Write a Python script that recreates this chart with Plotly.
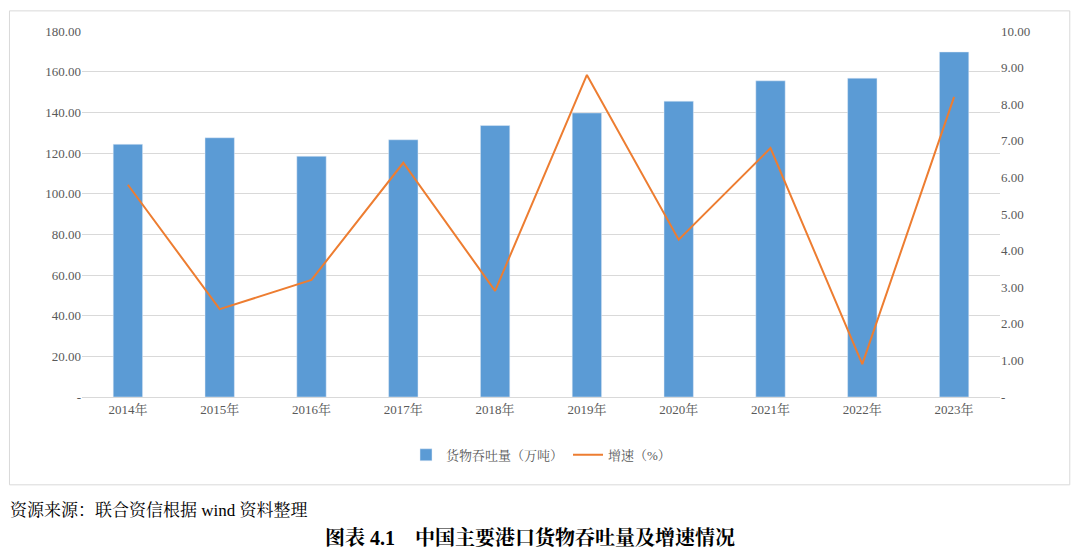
import plotly.graph_objects as go

years = ["2014年","2015年","2016年","2017年","2018年","2019年","2020年","2021年","2022年","2023年"]
throughput = [124.3, 127.5, 118.4, 126.5, 133.5, 139.7, 145.5, 155.5, 156.8, 169.7]
growth = [5.8, 2.4, 3.2, 6.4, 2.9, 8.8, 4.3, 6.8, 0.9, 8.2]
left_ticks = [0, 20, 40, 60, 80, 100, 120, 140, 160, 180]
left_labels = ["-"] + [f"{v:.2f}" for v in left_ticks[1:]]
right_ticks = list(range(0, 11))
right_labels = ["-"] + [f"{v:.2f}" for v in right_ticks[1:]]

font = "Liberation Serif, Noto Serif CJK SC, Noto Sans CJK SC"
fig = go.Figure()
fig.add_trace(go.Bar(x=years, y=throughput, name="货物吞吐量（万吨）", marker_color="#5b9bd5", width=0.32))
fig.add_trace(go.Scatter(x=years, y=growth, name="增速（%）", yaxis="y2", mode="lines",
                         line=dict(color="#ed7d31", width=2)))
fig.update_layout(
    width=1080, height=559, paper_bgcolor="white", plot_bgcolor="white",
    margin=dict(l=74, r=88, t=23, b=170),
    font=dict(family=font, size=13, color="#595959"),
    xaxis=dict(showline=True, linecolor="#d9d9d9", ticks=""),
    yaxis=dict(range=[0, 180], tickvals=left_ticks, ticktext=left_labels, gridcolor="#d9d9d9",
               zeroline=False),
    yaxis2=dict(range=[0, 10], tickvals=right_ticks, ticktext=right_labels, overlaying="y", side="right",
                showgrid=False, zeroline=False),
    legend=dict(orientation="h", x=0.5, xanchor="center", y=-0.158, yanchor="middle", font=dict(size=13)),
    showlegend=True, bargap=0.68,
    shapes=[dict(type="rect", xref="paper", yref="paper", x0=-0.079, x1=1.076, y0=-0.24, y1=1.055,
                 line=dict(color="#d9d9d9", width=1))],
    annotations=[
        dict(text="资源来源：联合资信根据 wind 资料整理", xref="paper", yref="paper", x=-0.081, y=-0.309,
             xanchor="left", yanchor="middle", showarrow=False, font=dict(size=17, color="#000")),
        dict(text="<b>图表 4.1    中国主要港口货物吞吐量及增速情况</b>", xref="paper", yref="paper", x=0.488, y=-0.385,
             xanchor="center", yanchor="middle", showarrow=False, font=dict(size=20, color="#000")),
    ],
)
fig.write_html("out.html")
